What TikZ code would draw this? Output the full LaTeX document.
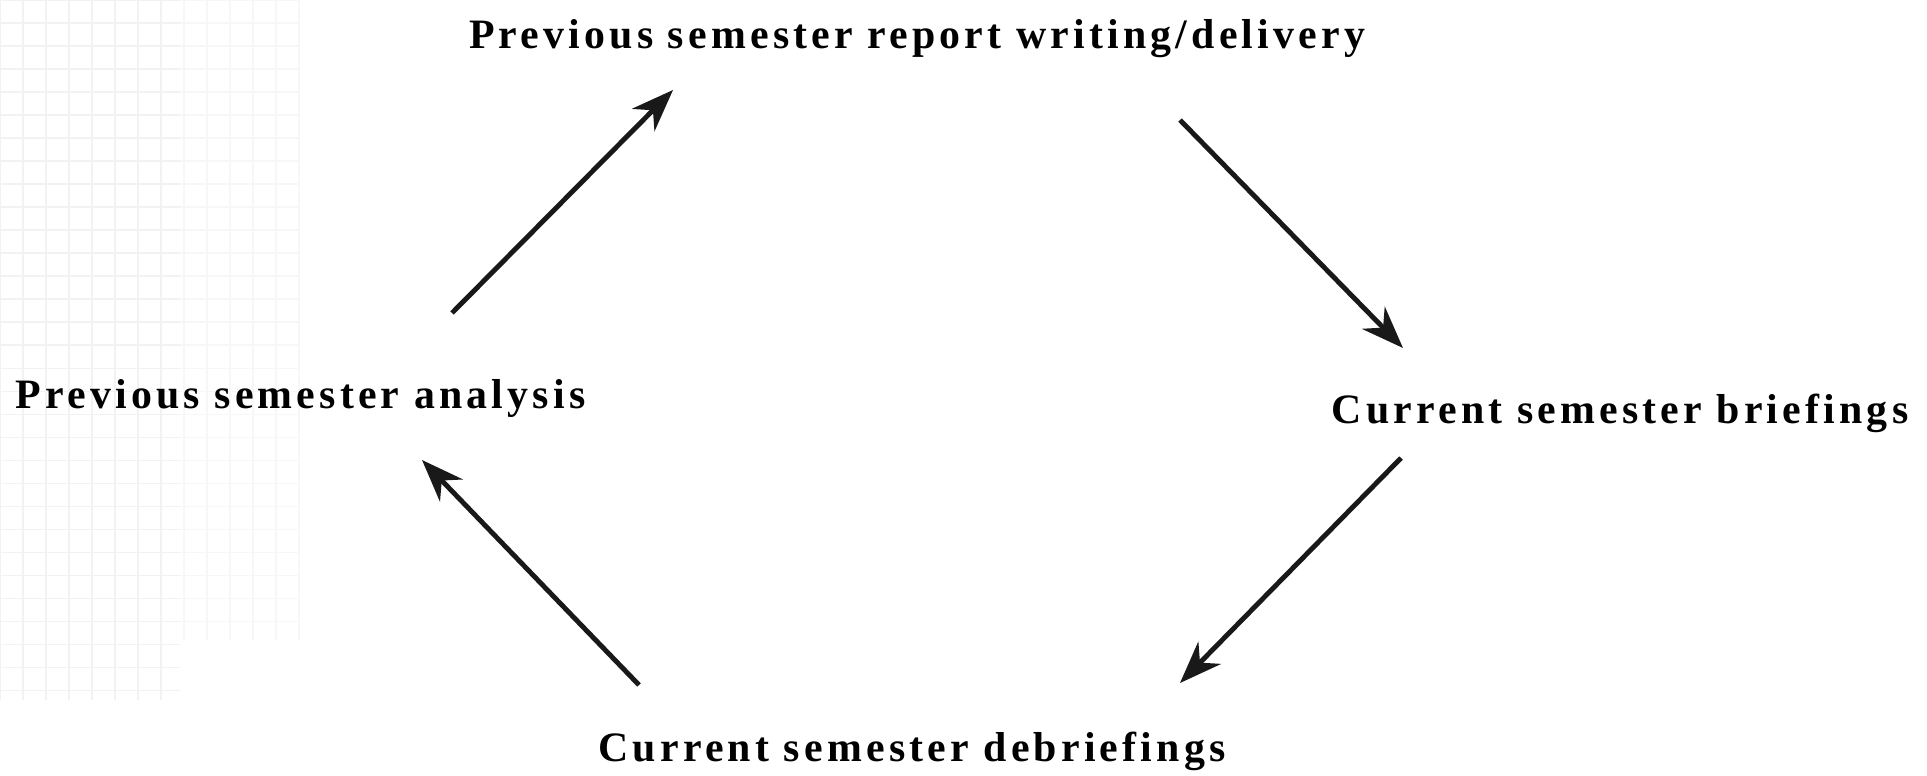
\documentclass[tikz,border=0pt]{standalone}
\usepackage{fontspec}
\setmainfont{Liberation Serif}[LetterSpace=10]
\usetikzlibrary{arrows.meta}
\begin{document}
\begin{tikzpicture}[>={Stealth[length=12pt,width=9pt]},x=0.01cm,y=-0.01cm,
    phase/.style={font=\fontsize{11.9}{14}\selectfont\bfseries,inner sep=0pt},
    cycle/.style={->,line width=1.4pt,color=black!90}]
            \useasboundingbox (0,0) rectangle (1927,776);
            % faint grid at the left
            \draw[black!5,step=0.23cm] (0,0) grid (180,700);
            \draw[black!3,step=0.23cm] (180,0) grid (300,640);
            % the four phases
            \node[phase] (report) at (917,39) {Previous semester report writing/delivery};
            \node[phase,anchor=west] (analysis) at (15,398) {Previous semester analysis};
            \node[phase,anchor=east] (briefings) at (1909,413) {Current semester briefings};
            \node[phase] (debriefings) at (912,751) {Current semester debriefings};
            % arrow ends
            \coordinate (a1) at (452,313);
            \coordinate (a2) at (673,90);
            \coordinate (b1) at (1180,120);
            \coordinate (b2) at (1403,348);
            \coordinate (c1) at (1401,458);
            \coordinate (c2) at (1180,683);
            \coordinate (d1) at (639,685);
            \coordinate (d2) at (422,460);
            \draw[cycle] (a1) -- (a2);
            \draw[cycle] (b1) -- (b2);
            \draw[cycle] (c1) -- (c2);
            \draw[cycle] (d1) -- (d2);
        \end{tikzpicture}
\end{document}
